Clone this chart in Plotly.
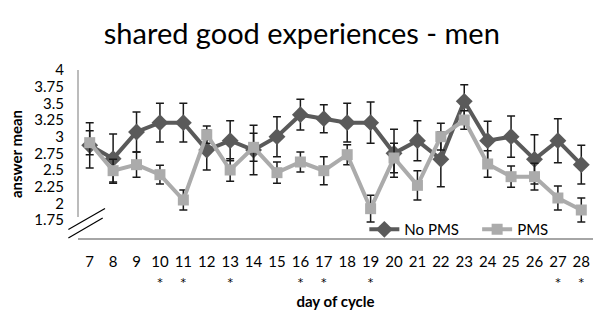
import plotly.graph_objects as go

days = list(range(7, 29))
no_pms = [2.87, 2.67, 3.07, 3.21, 3.21, 2.80, 2.94, 2.80, 3.00, 3.33, 3.27,
          3.21, 3.21, 2.75, 2.94, 2.66, 3.53, 2.94, 3.00, 2.66, 2.94, 2.58]
no_pms_err = [0.34, 0.37, 0.30, 0.29, 0.29, 0.30, 0.30, 0.37, 0.30, 0.23, 0.21,
              0.29, 0.31, 0.36, 0.30, 0.41, 0.25, 0.29, 0.31, 0.37, 0.33, 0.29]
pms = [2.91, 2.49, 2.58, 2.43, 2.05, 3.03, 2.50, 2.84, 2.46, 2.62, 2.49,
       2.73, 1.92, 2.68, 2.27, 3.00, 3.25, 2.59, 2.40, 2.40, 2.08, 1.90]
pms_err = [0.18, 0.17, 0.19, 0.14, 0.15, 0.13, 0.17, 0.21, 0.16, 0.15, 0.21,
           0.15, 0.20, 0.22, 0.22, 0.20, 0.14, 0.20, 0.16, 0.20, 0.18, 0.18]
significant_days = [10, 11, 13, 16, 17, 19, 27, 28]
y_ticks = [1.75, 2, 2.25, 2.5, 2.75, 3, 3.25, 3.5, 3.75, 4]
y_tick_labels = ["1.75", "2", "2.25", "2.5", "2.75", "3", "3.25", "3.5", "3.75", "4"]

FONT = "Lato"
AXIS = "#A6A6A6"

tick_text = [
    f"{d}<br><span style='font-family:DejaVu Sans;font-size:11px;color:black'>*</span>"
    if d in significant_days else f"{d}<br> " for d in days
]

fig = go.Figure()
fig.add_trace(go.Scatter(
    x=days, y=no_pms, name="No PMS", mode="lines+markers", legend="legend",
    line=dict(color="#5A5A5A", width=4),
    marker=dict(symbol="diamond", size=13, color="#5A5A5A"),
    error_y=dict(type="data", array=no_pms_err, color="#1a1a1a", thickness=1.5, width=4),
))
fig.add_trace(go.Scatter(
    x=days, y=pms, name="PMS", mode="lines+markers", legend="legend2",
    line=dict(color="#ABABAB", width=4),
    marker=dict(symbol="square", size=11, color="#ABABAB"),
    error_y=dict(type="data", array=pms_err, color="#1a1a1a", thickness=1.5, width=4),
))

# y axis line (broken) and break marks
shapes = [
    dict(type="line", xref="paper", yref="paper", x0=0, x1=0, y0=0.125, y1=1,
         line=dict(color=AXIS, width=1.5)),
    dict(type="line", xref="paper", yref="paper", x0=-0.0187, x1=0.0524, y0=0.05, y1=0.175,
         line=dict(color="#000000", width=1.2)),
    dict(type="line", xref="paper", yref="paper", x0=-0.0187, x1=0.048, y0=0.0, y1=0.119,
         line=dict(color="#000000", width=1.2)),
]

legend_common = dict(orientation="h", yanchor="middle", y=0.05,
                     bgcolor="rgba(0,0,0,0)", font=dict(size=15, family=FONT),
                     itemwidth=30)

fig.update_layout(
    width=600, height=326,
    margin=dict(l=78, r=7, t=70, b=88),
    paper_bgcolor="white", plot_bgcolor="white",
    font=dict(family=FONT, color="#000000"),
    title=dict(text="shared good experiences - men", x=0.503, xanchor="center",
               y=1 - 34 / 326, yanchor="middle",
               font=dict(family=FONT, size=29, color="#000000")),
    xaxis=dict(range=[6.5, 28.5], tickmode="array", tickvals=days, ticktext=tick_text,
               showline=True, linecolor=AXIS, linewidth=1.5, showgrid=False,
               zeroline=False, ticks="", tickfont=dict(size=15, family=FONT, color="#000000"),
               ticklabelstandoff=9,
               title=dict(text="<b>day of cycle</b>", font=dict(size=15, family=FONT),
                          standoff=8)),
    yaxis=dict(range=[1.48, 4.0], tickmode="array", tickvals=y_ticks, ticktext=y_tick_labels,
               showline=False, showgrid=False, zeroline=False, ticks="",
               tickfont=dict(size=15, family=FONT, color="#000000"), ticklabelstandoff=13,
               title=dict(text="<b>answer mean</b>", font=dict(size=15, family=FONT),
                          standoff=8)),
    legend=dict(x=0.556, xanchor="left", **legend_common),
    legend2=dict(x=0.775, xanchor="left", **legend_common),
    shapes=shapes,
    showlegend=True,
)

fig.write_html("out.html")
